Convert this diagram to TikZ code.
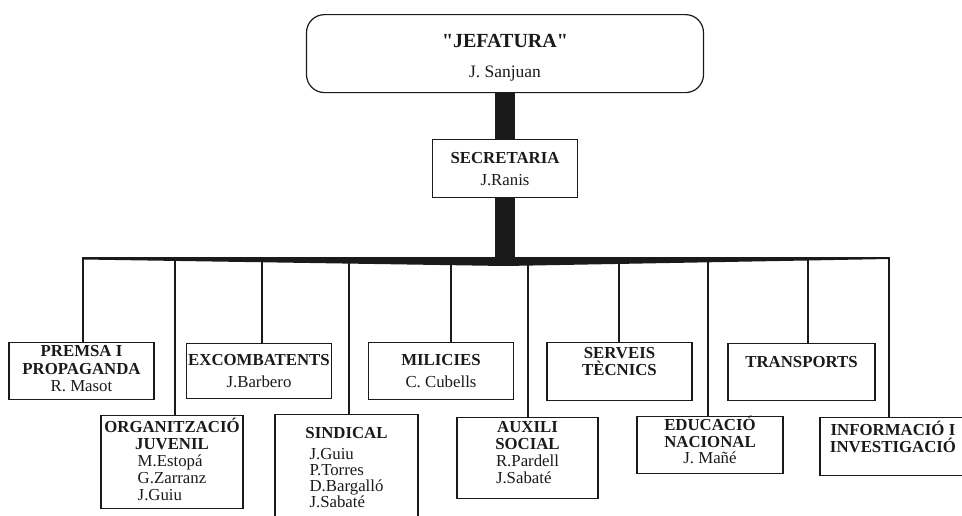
\documentclass[tikz,border=0pt]{standalone}
\usepackage{fontspec}
\setmainfont{Liberation Serif}
\usepackage{tikz}
\newcommand{\cellstack}[2][17pt]{\vtop{\baselineskip=#1\lineskiplimit=-\maxdimen\let\\\cr\halign{\hfil##\hfil\cr#2\crcr}}}
\newcommand{\namecol}[2][16.5pt]{\vtop{\baselineskip=#1\lineskiplimit=-\maxdimen\let\\\cr\halign{##\hfil\cr#2\crcr}}}
\begin{document}
\begin{tikzpicture}[x=1pt,y=-1pt,
	unitbox/.style={draw=ink,line width=1.2pt,inner sep=0pt,anchor=north,minimum width=145pt,text=ink,font=\fontsize{16.8}{17}\selectfont},
	bossbox/.style={unitbox,rounded corners=18pt,minimum width=397pt},
	tb/.style 2 args={text height=#1pt,text depth=#2pt},
	drop/.style={draw=ink,line width=1.2pt},
	trunk/.style={draw=ink,line width=20pt}]
					\definecolor{ink}{HTML}{1A1A1A}
					\useasboundingbox (0,0) rectangle (962,515);
					\clip (0,0) rectangle (962,515);
					\coordinate (bus) at (505,257);
					
					\node[bossbox,tb={33}{45}] (jef) at (505,14) {\cellstack[30pt]{{\fontsize{20}{20}\selectfont\bfseries \textquotedbl JEFATURA\textquotedbl}\\{\fontsize{17.5}{17.5}\selectfont J. Sanjuan}}};
					\node[unitbox,tb={24}{34}] (sec) at (505,139) {\cellstack[22pt]{\textbf{SECRETARIA}\\J.Ranis}};
					
					\node[unitbox,tb={14}{43}] (premsa) at (81.5,342) {\cellstack[17.5pt]{\textbf{PREMSA I}\\\textbf{PROPAGANDA}\\R. Masot}};
					\node[unitbox,tb={22}{33}] (excomb) at (259,343) {\cellstack[22pt]{\textbf{EXCOMBATENTS}\\J.Barbero}};
					\node[unitbox,tb={23}{34}] (milicies) at (441,342) {\cellstack[22pt]{\textbf{MILICIES}\\C. Cubells}};
					\node[unitbox,tb={16}{42}] (serveis) at (619.5,342) {\cellstack{\textbf{SERVEIS}\\\textbf{TÈCNICS}}};
					\node[unitbox,tb={24}{33},minimum width=147pt] (transports) at (801.5,343) {\textbf{TRANSPORTS}};
					
					\node[unitbox,tb={17}{76},minimum width=142pt] (org) at (172,415) {\cellstack{\textbf{ORGANITZACIÓ}\\\textbf{JUVENIL}\\\namecol[17pt]{M.Estopá\\G.Zarranz\\J.Guiu}}};
					\node[unitbox,tb={24}{96},minimum width=143pt] (sindical) at (346.5,414) {\cellstack[21pt]{\textbf{SINDICAL}\\\namecol[16pt]{J.Guiu\\P.Torres\\D.Bargalló\\J.Sabaté}}};
					\node[unitbox,tb={15}{66},minimum width=141pt] (auxili) at (527.5,417) {\cellstack{\textbf{AUXILI}\\\textbf{SOCIAL}\\\namecol{R.Pardell\\J.Sabaté}}};
					\node[unitbox,tb={14}{43},minimum width=146pt] (educacio) at (710,416) {\cellstack[16.5pt]{\textbf{EDUCACIÓ}\\\textbf{NACIONAL}\\J. Mañé}};
					\node[unitbox,tb={18}{40},minimum width=146pt] (informacio) at (893,417) {\cellstack{\textbf{INFORMACIÓ I}\\\textbf{INVESTIGACIÓ}}};
					
					\foreach \n/\dx in {premsa/1.5,org/3,excomb/3,sindical/2.5,milicies/10,auxili/0.5,serveis/-0.5,educacio/-2,transports/6.5,informacio/-4}
						\draw[drop] ([xshift=\dx pt]\n.north) -- ([xshift=\dx pt]\n.north |- bus);
					\fill[ink] (83,257) -- (889,257) -- (889,259) -- (505,266) -- (83,259.5) -- cycle;
					\draw[trunk] (jef.south) -- (sec.north);
					\draw[trunk] (sec.south) -- (bus);
				\end{tikzpicture}
\end{document}
